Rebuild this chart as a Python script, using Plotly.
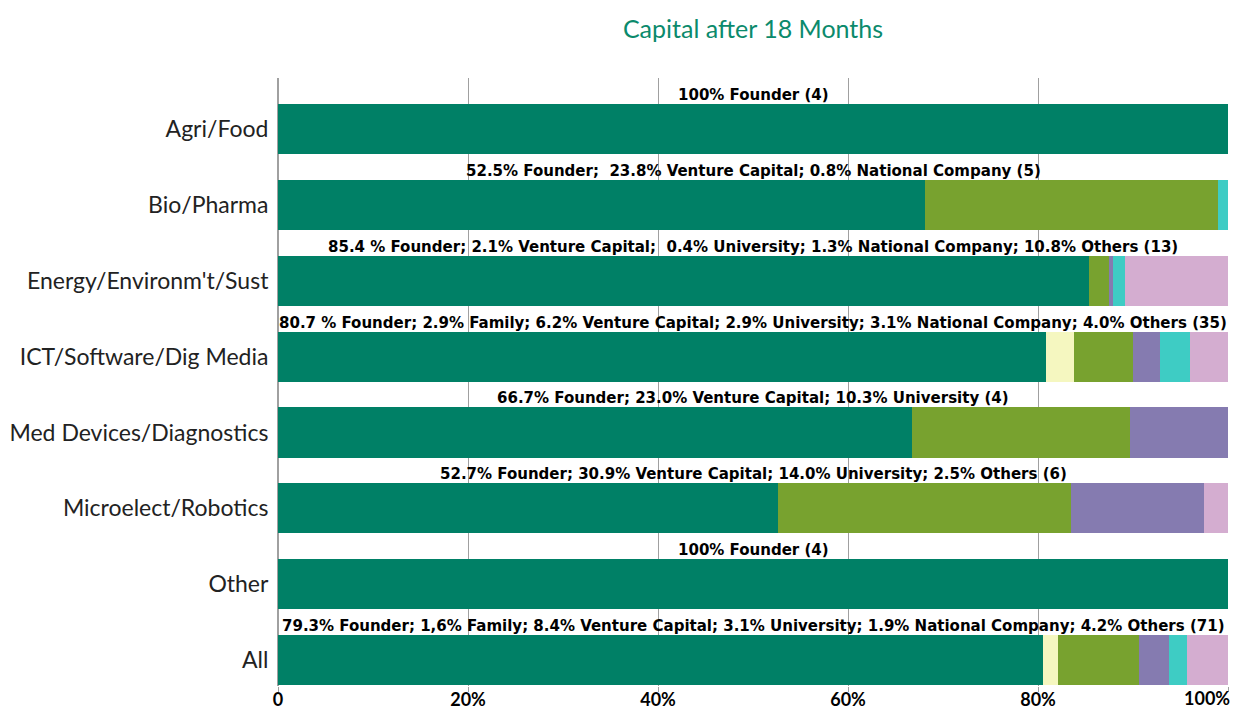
import plotly.graph_objects as go

categories = ["Agri/Food", "Bio/Pharma", "Energy/Environm't/Sust", "ICT/Software/Dig Media",
              "Med Devices/Diagnostics", "Microelect/Robotics", "Other", "All"]
founder = [100, 52.5, 85.4, 80.7, 66.7, 52.7, 100, 79.3]
family = [0, 0, 0, 2.9, 0, 0, 0, 1.6]
venture = [0, 23.8, 2.1, 6.2, 23.0, 30.9, 0, 8.4]
university = [0, 0, 0.4, 2.9, 10.3, 14.0, 0, 3.1]
national = [0, 0.8, 1.3, 3.1, 0, 0, 0, 1.9]
others = [0, 0, 10.8, 4.0, 0, 2.5, 0, 4.2]
bar_labels = [
    "100% Founder (4)",
    "52.5% Founder;  23.8% Venture Capital; 0.8% National Company (5)",
    "85.4 % Founder; 2.1% Venture Capital;  0.4% University; 1.3% National Company; 10.8% Others (13)",
    "80.7 % Founder; 2.9% Family; 6.2% Venture Capital; 2.9% University; 3.1% National Company; 4.0% Others (35)",
    "66.7% Founder; 23.0% Venture Capital; 10.3% University (4)",
    "52.7% Founder; 30.9% Venture Capital; 14.0% University; 2.5% Others (6)",
    "100% Founder (4)",
    "79.3% Founder; 1,6% Family; 8.4% Venture Capital; 3.1% University; 1.9% National Company; 4.2% Others (71)",
]
tick_vals = [0, 20, 40, 60, 80, 100]
tick_text = ["0", "20%", "40%", "60%", "80%", ""]
last_tick_text = "100%"
title_text = "Capital after 18 Months"

series = [
    ("Founder", founder, "#008066"),
    ("Family", family, "#F5F7C0"),
    ("Venture Capital", venture, "#78A22F"),
    ("University", university, "#857BB0"),
    ("National Company", national, "#3ECCC4"),
    ("Others", others, "#D4ADD0"),
]

label_font = dict(family="DejaVu Sans Condensed, Open Sans", size=16.7, color="#000000", weight="bold")
tick_font = dict(family="Lato", size=18, color="#000000", weight="bold")

fig = go.Figure()
for name, vals, col in series:
    fig.add_trace(go.Bar(
        name=name, x=vals, y=categories, orientation="h",
        marker=dict(color=col, line=dict(width=0)),
        width=0.66, hoverinfo="name+x",
    ))

for cat, lab in zip(categories, bar_labels):
    fig.add_annotation(
        x=50, y=cat, xref="x", yref="y", text=lab, showarrow=False,
        yanchor="middle", yshift=35, xanchor="center", font=label_font,
    )

# last x tick label is pulled inside the figure edge, as in the reference
fig.add_annotation(
    x=100, y=0, xref="x", yref="paper", text=last_tick_text, showarrow=False,
    xanchor="right", yanchor="middle", yshift=-12, xshift=4, font=tick_font,
)

fig.update_layout(
    width=1233, height=711,
    barmode="stack", barnorm="percent",
    showlegend=False,
    plot_bgcolor="white", paper_bgcolor="white",
    margin=dict(l=278, r=5, t=78, b=25),
    title=dict(text=title_text, x=0.5, xref="paper", xanchor="center",
               y=1 - 29 / 711, yref="container", yanchor="middle",
               font=dict(family="Lato", size=25, color="#0B8A6C")),
    xaxis=dict(range=[0, 100], tickvals=tick_vals, ticktext=tick_text, automargin=False,
               showgrid=True, gridcolor="#A0A0A0", gridwidth=1,
               zeroline=True, zerolinecolor="#A0A0A0", zerolinewidth=1,
               showline=False, ticks="outside", ticklen=5, tickcolor="#A0A0A0", tickwidth=1,
               ticklabelstandoff=-8,
               tickfont=tick_font),
    yaxis=dict(type="category", categoryorder="array", categoryarray=categories,
               range=[7.34, -0.67], autorange=False, showgrid=False, zeroline=False,
               automargin=False,
               showline=True, linecolor="#A0A0A0", linewidth=1,
               ticks="", ticklabelstandoff=4,
               tickfont=dict(family="Lato", size=23, color="#222222")),
)

fig.write_html("out.html", config={"displayModeBar": False},
               post_script="document.body.style.margin='0';document.body.style.padding='0';")
